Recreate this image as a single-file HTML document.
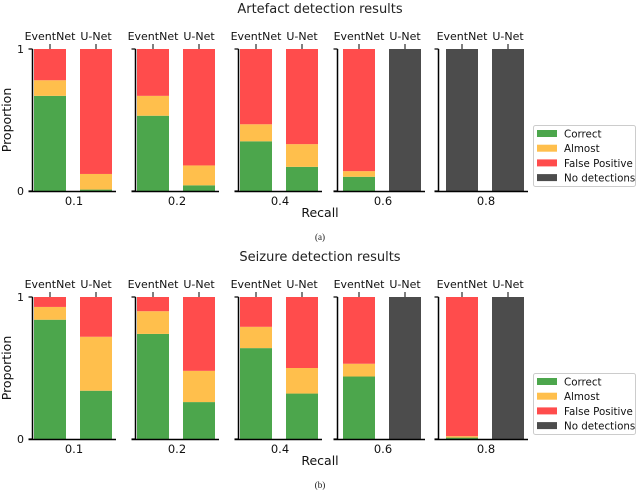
<!DOCTYPE html>
<html><head><meta charset="utf-8"><style>
body{margin:0;background:#fff;}
svg{display:block;font-family:"DejaVu Sans","Liberation Sans",sans-serif;}
</style></head><body>
<svg id="chart" width="640" height="490" viewBox="0 0 640 490"></svg>
<script>
const recalls = ["0.1","0.2","0.4","0.6","0.8"];
const methods = ["EventNet","U-Net"];
const categories = ["Correct","Almost","False Positive","No detections"];
const artefactEventNet = [[0.67,0.11,0.22,0],[0.53,0.14,0.33,0],[0.35,0.12,0.53,0],[0.10,0.04,0.86,0],[0,0,0,1]];
const artefactUNet = [[0.01,0.11,0.88,0],[0.04,0.14,0.82,0],[0.17,0.16,0.67,0],[0,0,0,1],[0,0,0,1]];
const seizureEventNet = [[0.84,0.09,0.07,0],[0.74,0.16,0.10,0],[0.64,0.15,0.21,0],[0.44,0.09,0.47,0],[0.01,0.01,0.98,0]];
const seizureUNet = [[0.34,0.38,0.28,0],[0.26,0.22,0.52,0],[0.32,0.18,0.50,0],[0,0,0,1],[0,0,0,1]];
const yTicks = [0,1];

const colors = ["#4ca64c","#ffbf4c","#ff4c4c","#4c4c4c"];
const svg = document.getElementById('chart');
const NS = "http://www.w3.org/2000/svg";
function el(tag, attrs, parent, text){
  const e = document.createElementNS(NS, tag);
  for (const k in attrs) e.setAttribute(k, attrs[k]);
  if (text !== undefined) e.textContent = text;
  (parent||svg).appendChild(e);
  return e;
}
const barStarts = [34,137,240,343,446];
const spineX = [32.5,135.5,238.5,337.5,438.5];
const barW = 32, gap2 = 46;

function drawChart(offY, title, enData, unData, label, key){
  const g = el('g', {}, svg);
  
  
  const top = 49 + offY, bot = 191 + offY;
  const y = v => bot - v * (bot - top);
  const t = el('text', {x:320, y:13+offY, 'text-anchor':'middle', 'font-size':13, fill:'#222'}, g, title);
  
  
  recalls.forEach((r, i) => {
    const pg = el('g', {}, g);
    
    
    [enData[i], unData[i]].forEach((vals, m) => {
      const x0 = barStarts[i] + m * gap2;
      let acc = 0;
      vals.forEach((v, c) => {
        if (v <= 0) return;
        const rc = el('rect', {x:x0, y:y(acc+v), width:barW, height:y(acc)-y(acc+v), fill:colors[c]}, pg);
        
        
        acc += v;
      });
      const cx = x0 + barW/2;
      el('line', {x1:cx, x2:cx, y1:top-5, y2:top, stroke:'#000', 'stroke-width':1}, pg);
      const ml = el('text', {x:cx, y:top-9, 'text-anchor':'middle', 'font-size':11, fill:'#111'}, pg, methods[m]);
      
      
    });
    const sx = spineX[i];
    el('line', {x1:sx, x2:sx, y1:top, y2:bot, stroke:'#000', 'stroke-width':1.5}, pg);
    el('line', {x1:sx-4, x2:barStarts[i]+gap2+barW+4, y1:bot+0.5, y2:bot+0.5, stroke:'#000', 'stroke-width':1.5}, pg);
    yTicks.forEach(v => {
      el('line', {x1:sx-4, x2:sx, y1:y(v), y2:y(v), stroke:'#000', 'stroke-width':1.2}, pg);
    });
    const xl = el('text', {x:barStarts[i]+(gap2+barW)/2+1, y:bot+14, 'text-anchor':'middle', 'font-size':11.5, fill:'#111'}, pg, r);
    
    
  });
  yTicks.forEach(v => {
    const tl = el('text', {x:24, y:y(v)+4, 'text-anchor':'end', 'font-size':11, fill:'#111'}, g, String(v));
    
    
  });
  const yt = el('text', {x:0, y:0, 'text-anchor':'middle', 'font-size':12.5, fill:'#111', transform:`translate(11,${(top+bot)/2}) rotate(-90)`}, g, 'Proportion');
  
  
  const xt = el('text', {x:320, y:217+offY, 'text-anchor':'middle', 'font-size':12.5, fill:'#111'}, g, 'Recall');
  
  
  const cap = el('text', {x:320, y:240+offY, 'text-anchor':'middle', 'font-size':9, fill:'#111', 'font-family':'Liberation Serif, serif'}, g, label);
  
  
  const lg = el('g', {}, g);
  
  
  const ly = 125 + offY;
  el('rect', {x:533.5, y:ly+0.5, width:102, height:61, fill:'#fff', stroke:'#ccc', rx:2}, lg);
  categories.forEach((c, k) => {
    const e = el('g', {}, lg);
    
    
    el('rect', {x:537, y:ly+5+k*14.7, width:20, height:7, fill:colors[k]}, e);
    el('text', {x:564, y:ly+12.5+k*14.7, 'font-size':10.3, fill:'#111'}, e, c);
  });
}
drawChart(0, 'Artefact detection results', artefactEventNet, artefactUNet, '(a)', 'artefact');
drawChart(248, 'Seizure detection results', seizureEventNet, seizureUNet, '(b)', 'seizure');
</script>
</body></html>
